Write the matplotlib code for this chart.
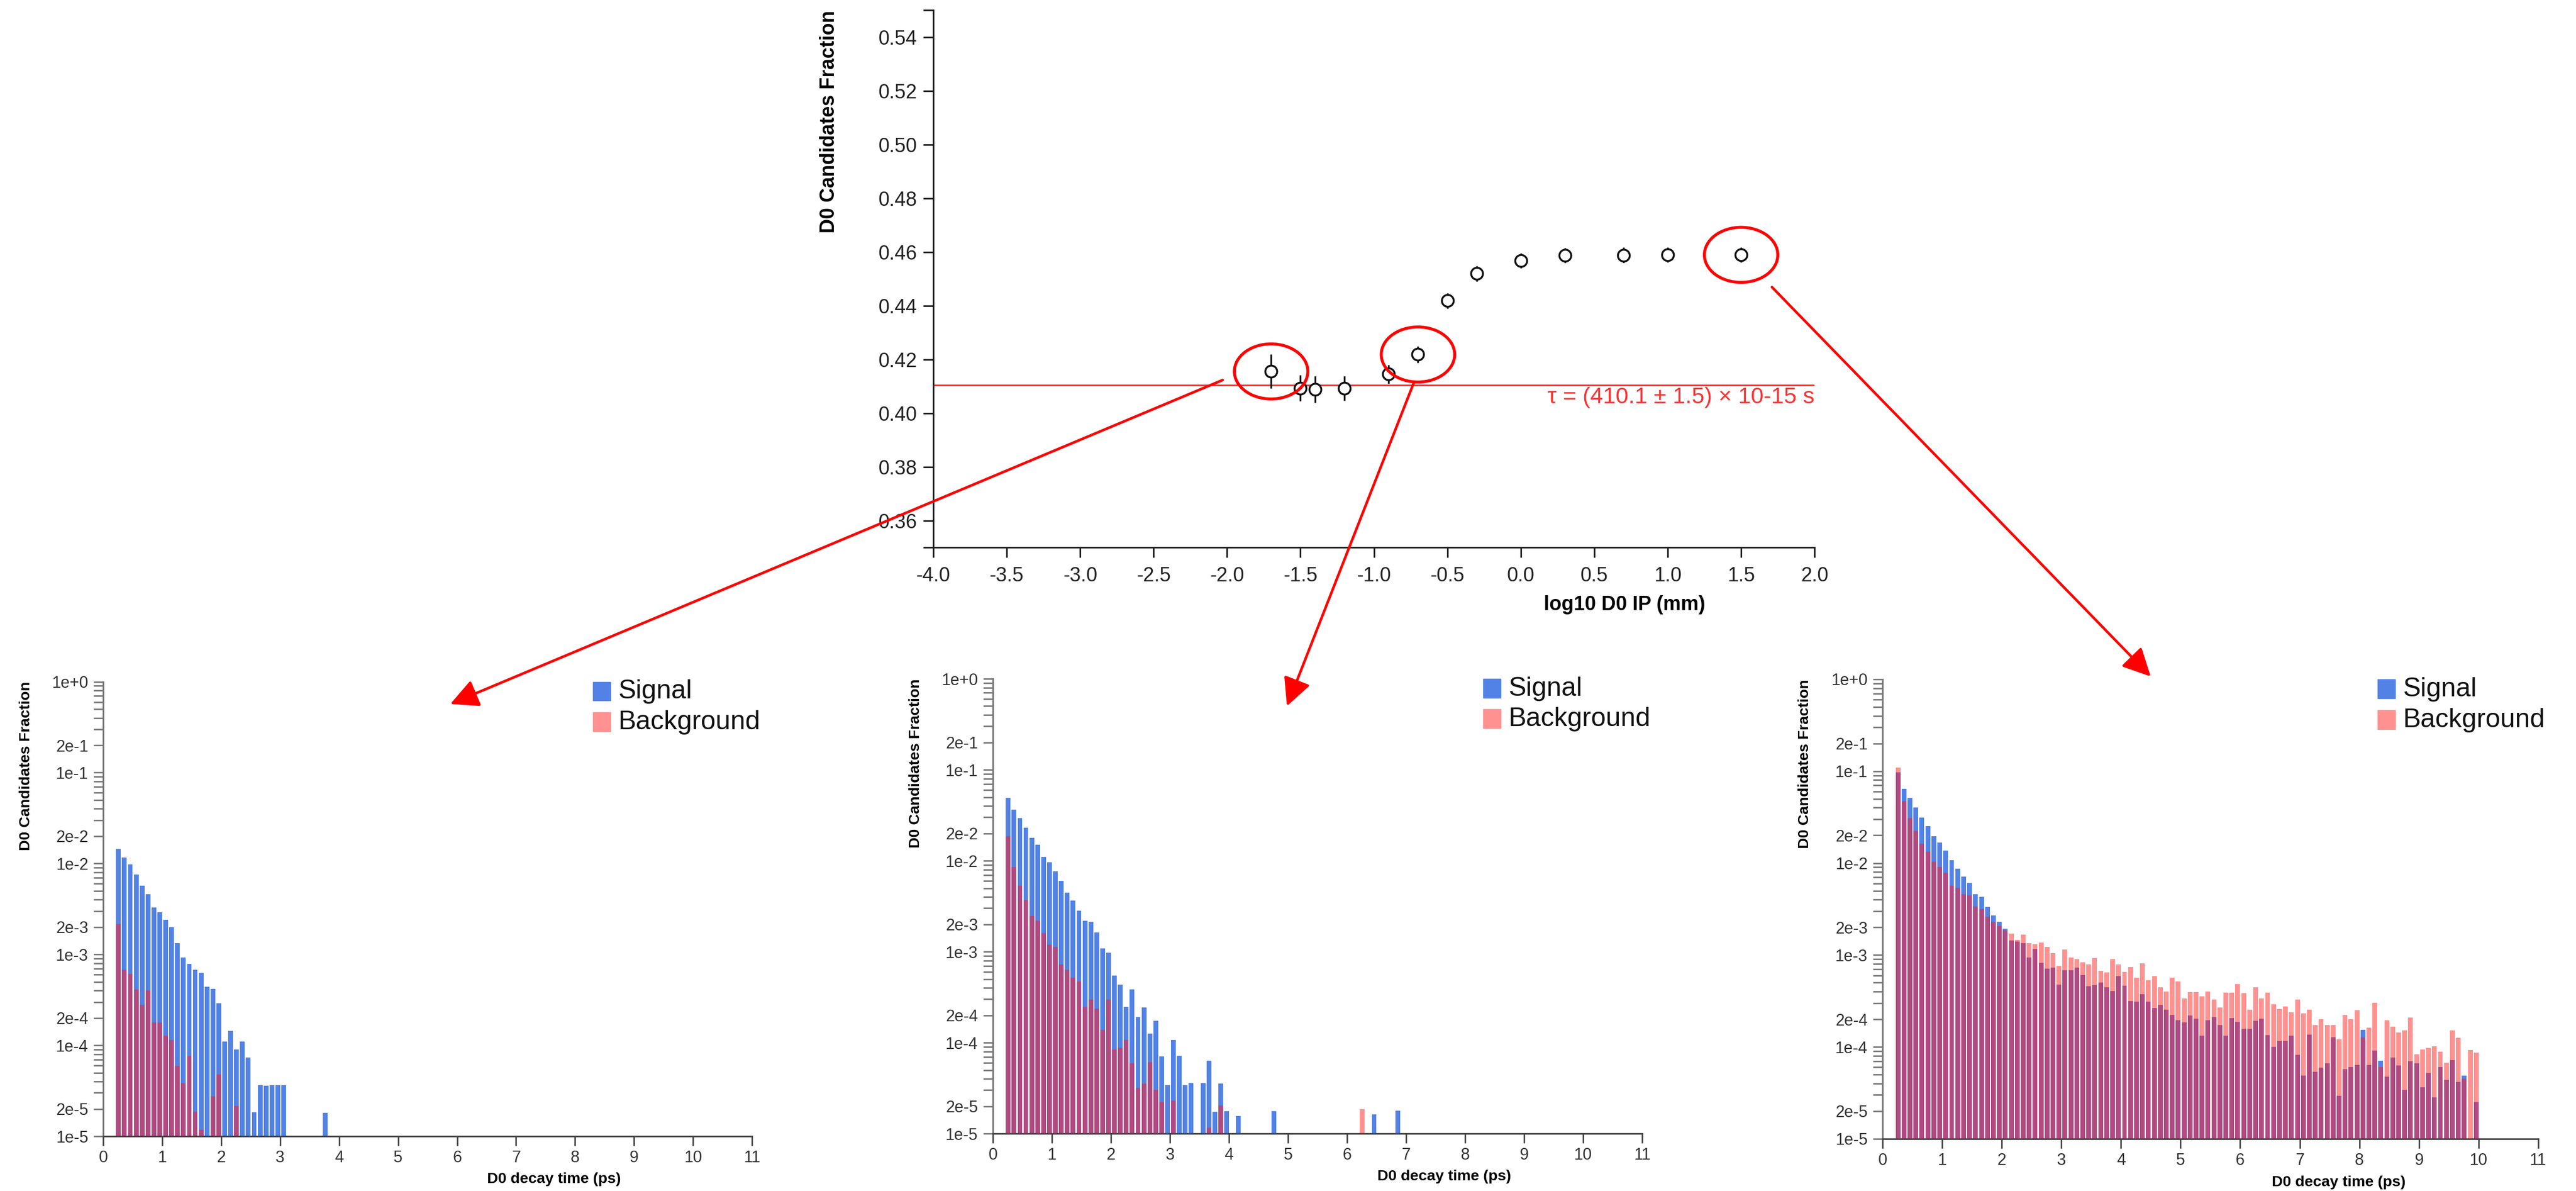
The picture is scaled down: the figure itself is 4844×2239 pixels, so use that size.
import numpy as np
import matplotlib
matplotlib.use("Agg")
import matplotlib.pyplot as plt
from matplotlib.patches import Ellipse, Rectangle, ConnectionPatch
from matplotlib.ticker import FixedLocator, FixedFormatter, LogLocator, NullFormatter, NullLocator

plt.rcParams['font.family'] = ['Liberation Sans', 'DejaVu Sans']
plt.rcParams['axes.unicode_minus'] = False

# ---- top panel: D0 fraction vs log10 impact parameter
ip_log = [-1.7, -1.5, -1.4, -1.2, -0.9, -0.7, -0.5, -0.3, 0.0, 0.3, 0.7, 1.0, 1.5]
frac = [0.4155, 0.4093, 0.4088, 0.4092, 0.4145, 0.4218, 0.4418, 0.4519, 0.4568,
        0.4587, 0.4588, 0.4589, 0.4589]
frac_err = [0.0063, 0.0048, 0.0050, 0.0046, 0.0035, 0.0030, 0.0028, 0.0028, 0.0028,
            0.0028, 0.0028, 0.0028, 0.0028]
fit_value = 0.4105
fit_text = "τ = (410.1 ± 1.5) × 10-15 s"
top_yticks = [0.35, 0.36, 0.38, 0.40, 0.42, 0.44, 0.46, 0.48, 0.50, 0.52, 0.54, 0.55]
top_ylabels = ['', '0.36', '0.38', '0.40', '0.42', '0.44', '0.46', '0.48', '0.50', '0.52', '0.54', '']
top_xticks = [-4.0, -3.5, -3.0, -2.5, -2.0, -1.5, -1.0, -0.5, 0.0, 0.5, 1.0, 1.5, 2.0]
circled = [0, 5, 12]   # points that get a red ring and an arrow to a histogram

# ---- bottom panels: decay time histograms, bins of 0.1 ps starting at 0.2 ps
sig_a = [0.0144, 0.0117, 0.0098, 0.0076, 0.0057, 0.0046, 0.0033, 0.0029, 0.0024, 0.0020,
         0.00133, 0.00093, 0.00079, 0.00068, 0.00063, 0.00044, 0.00042, 0.00029, 0.00011, 0.000144,
         0.00009, 0.00011, 0.000073, 0.0000183, 0.0000367, 0.000036, 0.0000367, 0.0000367, 0.0000367, 0,
         0, 0, 0, 0, 0, 0.0000182]
bkg_a = [0.00216, 0.00068, 0.00061, 0.00041, 0.00028, 0.00040, 0.00018, 0.00018, 0.000128, 0.000115,
         0.0000595, 0.0000384, 0.000077, 0.0000187, 0.0000117, 0, 0.0000273, 0.0000475, 0, 0,
         0.0000215]

sig_b = [0.0487, 0.0365, 0.0294, 0.0230, 0.0178, 0.0149, 0.0110, 0.00966, 0.00762, 0.0060,
         0.00445, 0.00363, 0.00282, 0.00218, 0.00212, 0.00163, 0.00108, 0.00097, 0.000544, 0.000432,
         0.000247, 0.000384, 0.000191, 0.000244, 0.000125, 0.000174, 0.0000706, 0.0000343, 0.000107, 0.0000715,
         0.0000343, 0.000036, 0, 0.000036, 0.000063, 0.0000175, 0.0000355, 0.0000177, 0, 0.0000157,
         0, 0, 0, 0, 0, 0.0000176, 0, 0, 0, 0,
         0, 0, 0, 0, 0, 0, 0, 0, 0, 0,
         0, 0, 0.0000162, 0, 0, 0, 0.0000179]
bkg_b = [0.0185, 0.00846, 0.0053, 0.00368, 0.00248, 0.00218, 0.00161, 0.00119, 0.00113, 0.00072,
         0.000635, 0.000515, 0.000473, 0.000248, 0.000296, 0.000238, 0.000139, 0.000297, 0.000084, 0.000087,
         0.000107, 0.000059, 0.000032, 0.0000355, 0.000061, 0.0000303, 0.0000221, 0, 0.000023, 0,
         0, 0, 0, 0, 0.0000116, 0, 0.0000203, 0, 0, 0,
         0, 0, 0, 0, 0, 0, 0, 0, 0, 0,
         0, 0, 0, 0, 0, 0, 0, 0, 0, 0,
         0.0000187]

sig_c = [0.0974, 0.0645, 0.0509, 0.0404, 0.0313, 0.0254, 0.0195, 0.0166, 0.01366, 0.01076,
         0.00873, 0.00708, 0.00604, 0.00456, 0.0043, 0.00332, 0.00271, 0.00228, 0.00192, 0.00143,
         0.00141, 0.00134, 0.000944, 0.00117, 0.000817, 0.000708, 0.000728, 0.000475, 0.000682, 0.000682,
         0.000728, 0.000608, 0.000458, 0.000472, 0.0005, 0.000443, 0.000408, 0.00059, 0.000465, 0.000317,
         0.00031, 0.000374, 0.00031, 0.000265, 0.000286, 0.000255, 0.000223, 0.000194, 0.000186, 0.000221,
         0.000203, 0.000133, 0.000195, 0.00021, 0.000174, 0.000132, 0.000206, 0.000187, 0.000157, 0.000157,
         0.000193, 0.000203, 0.000134, 0.0001, 0.000116, 0.000116, 0.000133, 0.000082, 0.0000488, 0.000136,
         0.0000533, 0.0000594, 0.0000662, 0.000127, 0.0000295, 0.0000573, 0.0000607, 0.0000634, 0.000154, 0.0000636,
         0.0000916, 0.0000711, 0.0000478, 0.0000764, 0.0000625, 0.0000341, 0.00007, 0.0000662, 0.0000363, 0.0000521,
         0.0000282, 0.0000603, 0.0000438, 0.0000722, 0.0000414, 0.0000485, 0, 0.0000249]
bkg_c = [0.110, 0.0473, 0.0307, 0.0223, 0.0162, 0.01337, 0.0103, 0.0090, 0.00783, 0.0057,
         0.00535, 0.00456, 0.00446, 0.00339, 0.00315, 0.00263, 0.00228, 0.00205, 0.00186, 0.00171,
         0.00146, 0.00167, 0.00134, 0.00131, 0.00136, 0.00123, 0.00104, 0.000755, 0.00114, 0.000944,
         0.000904, 0.000828, 0.000794, 0.000931, 0.000676, 0.000643, 0.000904, 0.000794, 0.000658, 0.000744,
         0.000569, 0.000811, 0.00053, 0.00059, 0.000443, 0.0004, 0.000565, 0.000514, 0.000338, 0.000396,
         0.000396, 0.000354, 0.000402, 0.000329, 0.00027, 0.000391, 0.000391, 0.000482, 0.000383, 0.000255,
         0.000443, 0.000338, 0.000388, 0.000291, 0.000257, 0.000277, 0.000239, 0.000329, 0.000231, 0.000255,
         0.000172, 0.000201, 0.000173, 0.000173, 0.00012, 0.000223, 0.000201, 0.000252, 0.000127, 0.000161,
         0.000301, 0.0000603, 0.000195, 0.000167, 0.000143, 0.000152, 0.000209, 0.0000834, 0.0000943, 0.000097,
         0.000102, 0.0000883, 0.0000676, 0.000151, 0.000126, 0.0000451, 0.0000929, 0.000087]

hist_yticks = [1, 0.2, 0.1, 0.02, 0.01, 0.002, 0.001, 0.0002, 0.0001, 0.00002, 0.00001]
hist_ylabels = ['1e+0', '2e-1', '1e-1', '2e-2', '1e-2', '2e-3', '1e-3', '2e-4', '1e-4', '2e-5', '1e-5']
hist_xticks = list(range(12))
legend_labels = ['Signal', 'Background']

BLUE = '#5282e6'
PINK = '#ff9290'
MIX = '#b04a80'

fig = plt.figure(figsize=(48.44, 22.39), dpi=100)

# ---------------- top plot
ax = fig.add_axes([0.3623, 0.5404, 0.3421, 0.4511])
ax.axhline(fit_value, color='#ff3030', lw=2.2, zorder=1)
ax.errorbar(ip_log, frac, yerr=frac_err, fmt='o', ms=16, mfc='white', mec='#111', mew=2.6,
            ecolor='#111', elinewidth=2.4, capsize=0, zorder=3)
ax.text(2.0, fit_value - 0.0046, fit_text, color='#ff3030', fontsize=31, ha='right', va='center')
ax.set_xlim(-4, 2)
ax.set_ylim(0.35, 0.55)
ax.yaxis.set_major_locator(FixedLocator(top_yticks))
ax.yaxis.set_major_formatter(FixedFormatter(top_ylabels))
ax.set_xticks(top_xticks)
ax.set_xticklabels(['%.1f' % v for v in top_xticks])
for s in ('top', 'right'):
    ax.spines[s].set_visible(False)
for s in ('left', 'bottom'):
    ax.spines[s].set_linewidth(2.2)
    ax.spines[s].set_color('#222')
ax.tick_params(axis='both', length=14, width=2.2, color='#222', labelsize=27, labelcolor='#222')
ax.tick_params(axis='x', pad=12)
ax.tick_params(axis='y', pad=8)
ax.set_ylabel('D0 Candidates Fraction', fontsize=27, fontweight='bold', loc='top')
ax.yaxis.set_label_coords(-0.1074, 1.0)
ax.set_xlabel('log10 D0 IP (mm)', fontsize=27, fontweight='bold', ha='right')
ax.xaxis.set_label_coords(0.876, -0.089)

for i in circled:
    ax.add_patch(Ellipse((ip_log[i], frac[i]), width=0.5, height=0.0205, fill=False,
                         ec='red', lw=4, zorder=5))
top_ax = ax

# ---------------- histograms
t_start, bin_w, bar_w, gap = 0.2, 0.1, 0.08, 0.02


def hist_panel(rect, sig, bkg):
    ax = fig.add_axes(rect)
    n = max(len(sig), len(bkg))
    s = np.zeros(n)
    s[:len(sig)] = sig
    b = np.zeros(n)
    b[:len(bkg)] = bkg
    left = t_start + bin_w * np.arange(n) + gap
    both = np.where((s > 0) & (b > 0), np.minimum(s, b), 0)
    floor = 1e-6
    for vals, col in ((s, BLUE), (b, PINK), (both, MIX)):
        m = vals > 0
        ax.bar(left[m], vals[m] - floor, bottom=floor, width=bar_w, align='edge',
               color=col, linewidth=0)
    ax.set_yscale('log')
    ax.set_ylim(1e-5, 1)
    ax.set_xlim(0, 11)
    ax.yaxis.set_major_locator(FixedLocator(hist_yticks))
    ax.yaxis.set_major_formatter(FixedFormatter(hist_ylabels))
    ax.yaxis.set_minor_locator(LogLocator(subs=[3, 4, 5, 6, 7, 8, 9], numticks=20))
    ax.yaxis.set_minor_formatter(NullFormatter())
    ax.set_xticks(hist_xticks)
    ax.xaxis.set_minor_locator(NullLocator())
    for sp in ('top', 'right'):
        ax.spines[sp].set_visible(False)
    ax.spines['left'].set_color('#777')
    ax.spines['bottom'].set_color('#444')
    for sp in ('left', 'bottom'):
        ax.spines[sp].set_linewidth(2.2)
    ax.tick_params(axis='y', which='both', length=13, width=2, color='#777',
                   labelsize=22, labelcolor='#333', pad=7)
    ax.tick_params(axis='x', length=13, width=2, color='#444', labelsize=22,
                   labelcolor='#333', pad=6)
    ax.set_ylabel('D0 Candidates Fraction', fontsize=20.5, fontweight='bold', loc='top')
    ax.yaxis.set_label_coords(-0.108, 1.0)
    ax.set_xlabel('D0 decay time (ps)', fontsize=20.5, fontweight='bold', ha='right')
    ax.xaxis.set_label_coords(0.798, -0.08)
    # legend
    for j, (lab, col) in enumerate(zip(legend_labels, [BLUE, PINK])):
        y0 = 1.0 - 0.067 * j
        ax.add_patch(Rectangle((0.755, y0 - 0.042), 0.027, 0.042, transform=ax.transAxes,
                               color=col, clip_on=False))
        ax.text(0.794, y0 - 0.022, lab, transform=ax.transAxes, fontsize=36,
                ha='left', va='center', color='#111')
    return ax


ax_a = hist_panel([0.04005, 0.0460, 0.2519, 0.3816], sig_a, bkg_a)
ax_b = hist_panel([0.3854, 0.0482, 0.2521, 0.3819], sig_b, bkg_b)
ax_c = hist_panel([0.7308, 0.0438, 0.2545, 0.3859], sig_c, bkg_c)

# ---------------- red arrows from the circled points to the histograms
arrows = [((-2.03, 0.4123), ax_a, (0.535, 0.951)),
          ((-0.727, 0.4115), ax_b, (0.453, 0.940)),
          ((1.71, 0.4469), ax_c, (0.409, 1.006))]
for start, target, end in arrows:
    con = ConnectionPatch(xyA=start, coordsA=top_ax.transData, xyB=end, coordsB=target.transAxes,
                          arrowstyle='-|>,head_length=0.8,head_width=0.4', mutation_scale=40,
                          color='red', lw=3.5)
    fig.add_artist(con)

fig.savefig('out.png', dpi=100, facecolor='white')
